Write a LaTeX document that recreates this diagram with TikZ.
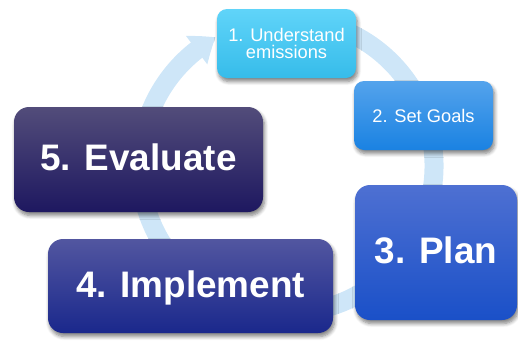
\documentclass[tikz,border=0pt]{standalone}
\usepackage{fontspec}
\setmainfont{Liberation Sans}
\usetikzlibrary{arrows.meta,bending,shadows.blur}
\definecolor{F}{RGB}{206, 230, 248}
\definecolor{C1}{RGB}{96, 212, 249}
\definecolor{C2}{RGB}{54, 188, 234}
\definecolor{S1}{RGB}{84, 163, 236}
\definecolor{S2}{RGB}{26, 130, 226}
\definecolor{P1}{RGB}{78, 112, 210}
\definecolor{P2}{RGB}{26, 80, 200}
\definecolor{I1}{RGB}{82, 86, 160}
\definecolor{I2}{RGB}{26, 40, 140}
\definecolor{E1}{RGB}{82, 76, 122}
\definecolor{E2}{RGB}{30, 24, 96}

\tikzset{
    caja/.style={rounded corners=0.3cm, text=white, align=center, inner sep=0pt,
        blur shadow={shadow xshift=0.03cm, shadow yshift=-0.07cm,
        shadow blur steps=6, shadow opacity=50}},
    chica/.style={caja, rounded corners=0.2cm, minimum width=2.78cm, minimum height=1.38cm,
        font=\fontsize{10.4}{10.2}\selectfont},
    grande/.style={caja, text height=15pt, text depth=2pt,
        font=\fontsize{21}{24}\selectfont\bfseries}
}

\begin{document}
\begin{tikzpicture}
    \useasboundingbox (0,0) rectangle (10.36,6.8);

    %Flecha circular del fondo
    \coordinate (centro) at (5.74,3.48);
    \draw[color=F, line width=0.38cm, -{Triangle[width=0.68cm,length=0.46cm,bend]}]
        ([shift={(75:2.94)}]centro) arc[start angle=75, end angle=-241, radius=2.94];

    %Pasos pequenos
    \node[chica, top color=C1, bottom color=C2] (entender) at (5.73,5.93) {1. Understand\\emissions};
    \node[chica, top color=S1, bottom color=S2] (metas) at (8.47,4.49) {2. Set Goals};

    %Pasos grandes
    \node[grande, top color=P1, bottom color=P2, minimum width=3.24cm, minimum height=2.70cm] (plan) at (8.72,1.75) {3. Plan};
    \node[grande, top color=I1, bottom color=I2, minimum width=5.70cm, minimum height=1.88cm] (implementar) at (3.81,1.08) {4. Implement};
    \node[grande, top color=E1, bottom color=E2, minimum width=4.98cm, minimum height=2.10cm] (evaluar) at (2.77,3.61) {5. Evaluate};
\end{tikzpicture}
\end{document}
